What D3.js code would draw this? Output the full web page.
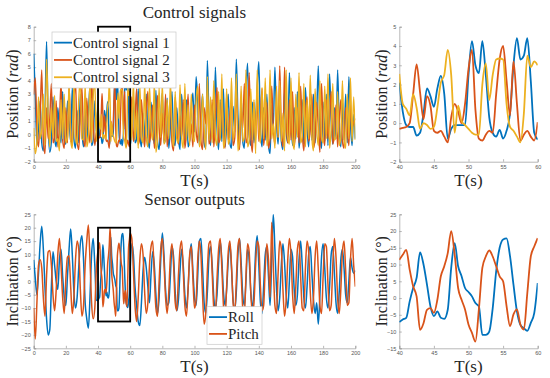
<!DOCTYPE html>
<html>
<head>
<meta charset="utf-8">
<script src="https://cdn.jsdelivr.net/npm/d3@7"></script>
<style>
body { margin: 0; background: #fff; }
svg { display: block; }
.tick text { font-family: "Liberation Sans", Arial, sans-serif; font-size: 5.5px; fill: #555; }
.domain, .tick line { stroke: #9a9a9a; stroke-width: 0.7; }
</style>
</head>
<body>
<div id="chart"></div>
<script>

// ---- whole run, one sample per second (0..200 s)
var control1 = [
  6.0, 3.0, -0.8, 0.5, 2.5, -0.6, -1.2, 1.5, 6.9, 0.8,
  -1.3, -0.5, 2.8, -0.2, -0.9, 2.0, 0.3, -0.6, 3.2, -0.4,
  -0.7, 2.5, 1.0, -0.5, 3.5, -0.3, -1.0, 1.8, -0.6, 3.0,
  0.2, -0.9, 2.2, -0.5, 1.5, 3.6, -0.8, -0.4, 2.5, 0.2,
  2.1, -0.1, -0.2, -0.5, 1.8, 0.85, 2.45, -0.8, -0.1, -0.1,
  2.5, 3.0, 4.25, 0.3, -0.7, -0.8, 0.5, 4.4, 3.5, 2.2,
  -0.85, 0.5, 2.8, -0.6, -0.3, 3.4, 0.1, -0.9, 1.6, -0.5,
  3.0, -0.2, -1.0, 2.4, 0.4, -0.7, 3.3, -0.4, -1.1, 1.2,
  3.1, -0.6, -0.3, 2.7, -1.0, 0.6, 3.2, -0.5, -0.8, 2.0,
  -0.2, -1.1, 3.0, 0.3, -0.7, 2.6, -0.9, -0.4, 1.8, 3.1,
  0.2, 4.3, 2.5, -0.8, 1.0, 3.0, -0.6, -1.0, 5.5, 1.2,
  -0.8, 2.2, -0.4, 5.0, 0.5, -1.1, 2.6, -0.5, 3.4, -0.9,
  0.8, 3.0, -0.6, -1.0, 2.1, 0.2, 5.6, 1.5, -0.9, 2.8,
  -0.5, -1.0, 3.2, 5.3, 0.0, -0.8, 2.4, -0.6, 1.0, 3.5,
  5.4, 0.4, -0.9, 2.0, -0.4, 3.0, -0.8, -1.4, 2.2, 0.6,
  5.0, 1.0, -0.7, 2.6, -0.5, -1.1, 3.3, 0.2, -0.6, 4.6,
  1.2, -0.8, 2.0, -0.3, 3.2, -1.0, 0.4, 2.6, -0.7, 3.5,
  0.5, -0.9, 2.2, -0.4, 3.0, -0.6, 1.5, 5.1, 0.3, -1.0,
  2.4, -0.5, 3.0, -0.8, 4.5, 1.0, -0.7, 2.0, -0.3, 4.8,
  0.6, -0.9, 2.5, -0.4, 3.0, -0.6, 4.3, 0.8, -0.8, 1.5,
  -0.3
];
var control2 = [
  3.0, 4.2, 0.5, -0.9, 1.5, 4.8, -0.5, -1.4, 2.0, -0.3,
  1.2, 3.8, -0.6, -0.2, 2.5, -0.9, 0.8, 3.9, -0.4, -1.0,
  2.0, -0.6, 3.6, 0.2, -0.8, 2.3, 4.0, -0.5, -1.1, 1.5,
  3.5, -0.3, -0.9, 2.7, 0.4, -0.6, 4.1, 1.0, -0.8, 0.2,
  -0.3, -0.2, 1.5, 1.6, 1.4, -0.4, -0.4, -1.0, 1.0, 0.0,
  2.8, 0.5, -0.9, -0.4, 1.5, 4.0, 0.4, 1.0, -0.6, -0.7,
  0.05, 2.8, -0.5, 1.0, 3.4, -0.7, -0.2, 2.6, 0.3, -0.9,
  1.8, 3.2, -0.6, 0.4, 2.2, -1.0, -0.3, 2.9, 0.6, -0.8,
  1.6, -0.4, 3.0, -0.9, 0.5, 2.4, -0.6, -1.2, 2.8, 0.3,
  -0.7, 1.4, -0.3, 2.6, -1.0, 0.2, 3.0, -0.5, 0.8, -0.9,
  2.2, 0.3, -0.6, 3.8, -0.4, -1.1, 2.0, 0.8, 3.2, -0.7,
  -0.3, 2.6, -0.9, 1.2, 3.5, -0.6, -0.2, 2.8, 0.0, -1.0,
  3.0, -0.4, 1.4, 2.6, -0.8, -0.3, 3.3, 0.2, -1.1, 2.0,
  0.5, 3.8, -0.6, -0.2, 4.6, 0.1, -1.3, 2.4, -0.4, 3.0,
  -0.5, 1.2, 3.4, -0.8, 0.6, 2.4, -1.0, -0.3, 3.6, 0.5,
  -0.7, 2.2, -0.2, 5.1, 0.3, -0.9, 5.0, 1.0, -0.6, 2.6,
  -0.4, 3.2, -0.9, 0.5, 2.0, -0.6, 3.6, 0.2, -1.2, 1.6,
  2.8, -0.5, 0.4, 3.0, -1.0, -0.2, 2.4, 0.6, -1.3, 3.8,
  0.3, -0.8, 2.6, -0.3, 1.2, 3.2, -0.7, 0.0, 2.2, -0.9,
  1.0, 2.6, -0.5, -1.0, 2.0, 0.4, -0.8, 2.2, 0.5, 0.9,
  1.2
];
var control3 = [
  0.5, -1.4, -0.5, 2.8, -0.3, 0.4, 3.0, -0.8, 5.6, 1.5,
  -0.9, 2.0, -0.2, 2.9, -0.5, -0.3, -1.2, 2.6, -0.3, 3.0,
  -0.6, -0.2, 3.8, -0.4, -1.0, 3.9, -0.2, -0.7, 2.6, 4.0,
  -0.3, -0.4, 3.8, -0.9, -0.2, 4.0, -0.6, 2.8, 3.9, -0.5,
  2.55, 0.75, 1.5, -0.3, -0.1, -0.2, 2.1, 3.8, -0.6, 0.1,
  -0.3, -0.6, 2.0, 1.2, 3.3, 3.3, -0.2, -0.7, 0.5, 2.9,
  3.0, -0.4, 3.9, -0.4, 1.8, -1.0, 3.7, -0.2, -0.6, 3.8,
  -0.2, -0.9, 3.6, 0.5, -0.4, 3.9, -1.3, -0.3, 3.5, -0.2,
  3.8, -0.7, -0.3, 2.6, -0.3, 3.9, 0.4, -0.9, 3.2, -0.3,
  -0.6, 3.7, -0.2, -1.0, 3.8, -0.4, 2.2, -0.8, 3.0, -0.2,
  -0.5, 2.4, 3.6, -0.9, -0.2, 3.0, 0.5, -1.1, 4.3, -0.4,
  2.8, -0.6, 4.0, -0.2, -0.8, 3.2, -0.4, 4.5, -1.0, -0.3,
  3.4, -0.7, -0.2, 4.2, -0.4, 0.6, 4.5, -1.2, -0.3, 3.6,
  -0.5, -0.2, 4.8, -0.9, -0.4, 3.4, -0.4, 2.6, -1.4, 4.8,
  0.4, -0.6, 3.5, -0.3, 4.2, -0.8, -0.2, 4.8, -0.3, 0.8,
  -1.0, 3.6, -0.2, 4.0, -0.5, 1.6, -1.2, 4.8, -0.2, -0.7,
  4.2, -0.3, -1.1, 3.0, -0.2, 4.6, -0.6, -0.1, 3.8, -0.9,
  2.6, -0.3, 4.4, -0.2, -1.2, 3.4, 0.4, -0.8, 4.0, -0.2,
  -0.6, 3.6, -0.3, 4.5, -1.0, 0.5, 3.8, -0.4, -0.2, 3.2,
  -0.8, -0.2, 4.0, -0.3, -1.0, 3.0, -0.3, 4.2, -0.5, 2.8,
  -0.4
];
var roll = [
  8.0, 1.0, -5.0, 3.0, 14.0, 20.5, 12.0, -2.0, -14.0, -20.0,
  -18.0, -2.0, 11.0, 6.0, 0.0, -3.0, 8.0, 12.0, 2.0, -6.0,
  -9.0, 2.0, 12.0, 19.5, 10.0, -4.0, -10.0, -6.0, 5.0, 14.0,
  17.0, 8.0, -8.0, -14.0, -17.5, -6.0, 10.0, 16.0, 6.0, -7.0,
  -7.2, -5.9, 3.0, 13.6, 4.0, -5.4, -5.9, -3.5, 16.4, 6.5,
  1.8, -1.5, -11.0, -10.0, 8.0, 17.5, 12.5, -4.0, -9.0, -7.4,
  4.5, 14.0, 10.0, -2.0, -9.0, -15.0, -16.5, -8.0, 4.0, 9.0,
  5.0, -2.0, -8.0, 3.0, 11.0, 6.0, -5.0, -12.0, -6.0, 8.0,
  18.0, 10.0, -3.0, -9.0, -8.0, 2.0, 13.0, 9.0, -4.0, -11.0,
  -7.0, 4.0, 12.0, 6.0, -5.0, -10.0, -3.0, 9.0, 14.0, 4.0,
  -6.0, -9.0, 2.0, 15.0, 16.0, 5.0, -8.0, -12.0, -4.0, 9.0,
  13.0, 6.0, -6.0, -10.0, -5.0, 7.0, 15.0, 8.0, -4.0, -9.0,
  -3.0, 8.0, 14.0, 5.0, -7.0, -11.0, -4.0, 10.0, 16.0, 7.0,
  -5.0, -9.0, 0.0, 12.0, 8.0, -4.0, -10.0, -3.0, 11.0, 17.0,
  6.0, -8.0, -12.0, -2.0, 10.0, 13.0, 2.0, -9.0, 8.0, 25.0,
  12.0, -3.0, -11.0, -6.0, 6.0, 14.0, 7.0, -5.0, -10.0, 0.0,
  12.0, 9.0, -3.0, -9.0, -5.0, 8.0, 15.0, 6.0, -6.0, -10.0,
  -2.0, 10.0, 13.0, 3.0, -7.0, -12.0, -8.0, -16.0, -5.0, 9.0,
  14.0, 5.0, -6.0, -10.0, -2.0, 10.0, 13.0, 3.0, -8.0, -12.0,
  -4.0, 8.0, 12.0, 5.0, -5.0, -8.0, 0.0, 9.0, 5.0, 3.0,
  4.0
];
var pitch = [
  -10.0, -21.5, -8.0, 6.0, 8.0, 5.0, -6.0, -13.0, 2.0, 11.0,
  11.5, 6.0, -5.0, -11.0, -3.0, 10.0, 16.0, 6.0, -6.0, -12.0,
  1.0, 9.0, 9.5, -2.0, -12.0, -6.0, 8.0, 15.0, 12.0, -3.0,
  -13.0, -9.0, 6.0, 15.0, 21.0, 8.0, -8.0, -14.0, -10.0, 5.0,
  11.4, 14.4, 3.5, -9.5, -3.5, -4.4, 6.5, 13.4, 13.0, -0.5,
  -7.9, -13.0, 9.0, 14.2, 9.5, 5.0, -8.4, -3.4, -9.4, 12.4,
  17.9, 16.0, 4.0, -9.0, -15.0, -6.0, 8.0, 14.0, 10.0, -4.0,
  -12.0, -8.0, 6.0, 13.0, 15.0, 2.0, -10.0, -13.0, 0.0, 12.0,
  16.0, 7.0, -6.0, -12.0, -4.0, 9.0, 14.0, 6.0, -8.0, -11.0,
  2.0, 12.0, 15.0, 4.0, -9.0, -13.0, -3.0, 10.0, 13.0, 1.0,
  -10.0, -7.0, 8.0, 15.0, 10.0, -5.0, -16.0, -12.0, 4.0, 14.0,
  15.0, 3.0, -10.0, -12.0, 1.0, 12.0, 16.0, 5.0, -9.0, -14.0,
  -2.0, 11.0, 15.0, 6.0, -8.0, -12.0, 0.0, 13.0, 16.0, 3.0,
  -10.0, -13.0, 2.0, 14.0, 11.0, -4.0, -12.0, -8.0, 6.0, 15.0,
  13.0, -2.0, -11.0, -9.0, 5.0, 14.0, 8.0, -6.0, 22.0, 6.0,
  -9.0, -12.0, 3.0, 15.0, 12.0, -3.0, -13.0, -7.0, 8.0, 16.0,
  10.0, -5.0, -12.0, -2.0, 12.0, 15.0, 2.0, -10.0, -11.0, 5.0,
  15.0, 11.0, -4.0, -12.0, -6.0, 9.0, 15.0, 4.0, -9.0, -12.0,
  2.0, 14.0, 13.0, -1.0, -11.0, -9.0, 6.0, 16.0, 9.0, -6.0,
  -12.0, -3.0, 11.0, 15.0, 4.0, -9.0, -8.0, 8.0, 16.0, 6.0,
  -2.0
];

// ---- zoomed window 40..60 s, one sample every 0.5 s
var zoom1 = [2.1, 0.6, -0.1, -0.2, -0.2, -0.65, -0.5, 0.5, 1.8, 1.4, 0.85, 1.8, 2.45, 1.5, -0.8, -0.3, -0.1, -0.1, -0.1, -0.1,
  2.5, 4.25, 3.0, 2.6, 4.25, 2.5, 0.3, -0.5, -0.7, -0.35, -0.8, -0.4, 0.5, 3.0, 4.4, 3.3, 3.5, 4.4, 2.2, -0.5, -0.85];
var zoom2 = [-0.3, -0.25, -0.2, 0.0, 1.5, 3.05, 1.6, 0.2, 1.4, 0.9, -0.4, -0.5, -0.4, -0.7, -1.0, 0.3, 1.0, 0.6, 0.0, 1.0,
  2.8, 3.8, 0.7, -0.8, -0.9, -0.6, -0.4, -0.5, 1.5, 3.3, 4.0, 2.2, 0.4, 3.2, 1.0, -0.9, -0.6, -0.4, -0.7, -0.9, 0.05];
var zoom3 = [2.55, 1.0, 0.75, 0.4, 1.5, 0.8, -0.3, 0.0, -0.1, -0.3, -0.2, 0.8, 2.1, 2.5, 3.8, 2.5, -0.5, 0.9, 0.1, -0.1,
  -0.3, -0.5, -0.6, -0.6, 2.0, 3.1, 1.2, 2.5, 3.3, 3.35, 3.3, 1.0, -0.2, -0.4, -0.7, -1.0, 0.5, 3.5, 2.9, 3.2, 3.0];
var zoomRoll = [-7.2, -6.4, -5.9, -1.0, 3.0, 6.0, 13.6, 10.0, 4.0, -2.5, -5.4, -4.0, -5.9, -6.2, -3.5, 9.0, 16.4, 9.5, 6.5, 3.0,
  1.8, 0.5, -1.5, -2.5, -11.0, -11.0, -10.0, -3.0, 8.0, 15.0, 17.5, 17.8, 12.5, 4.0, -4.0, -8.0, -9.0, -9.8, -7.4, -4.5, 4.5];
var zoomPitch = [11.4, 12.9, 14.4, 8.5, 3.5, 0.5, -9.5, -7.5, -3.5, -3.0, -4.4, -0.5, 6.5, 9.5, 13.4, 20.0, 13.0, 3.0, -0.5, -3.4,
  -7.9, -10.4, -13.0, -3.4, 9.0, 12.4, 14.2, 12.4, 9.5, 6.5, 5.0, -2.4, -8.4, -4.9, -3.4, -7.9, -9.4, 1.5, 12.4, 15.4, 17.9];

var fullTime = d3.range(0, 201);
var zoomTime = d3.range(0, 41).map(function(i) { return 40 + i * 0.5; });

var controlNames = ["Control signal 1", "Control signal 2", "Control signal 3"];
var sensorNames = ["Roll", "Pitch"];
var colors = ["#0072BD", "#D95319", "#EDB120"];

var xTicksFull = [0, 20, 40, 60, 80, 100, 120, 140, 160, 180, 200];
var xTicksZoom = [40, 45, 50, 55, 60];
var yTicksControl = [-2, -1, 0, 1, 2, 3, 4, 5, 6, 7, 8];
var yTicksControlZoom = [-2, -1, 0, 1, 2, 3, 4, 5];
var yTicksSensor = [-25, -20, -15, -10, -5, 0, 5, 10, 15, 20, 25];
var yTicksSensorZoom = [-15, -10, -5, 0, 5, 10, 15, 20, 25];

var serif = '"Liberation Serif", "Times New Roman", Times, serif';

// full-run series use the finer window samples between 40 and 60 s
function toPoints(times, vals) {
  return times.map(function(t, i) { return { t: t, v: vals[i] }; });
}
function merged(full, fine) {
  var pts = toPoints(fullTime, full).filter(function(d) { return d.t < 40 || d.t > 60; });
  return pts.concat(toPoints(zoomTime, fine)).sort(function(a, b) { return a.t - b.t; });
}

var svg = d3.select("#chart").append("svg")
  .attr("width", 550)
  .attr("height", 378);

var clipId = 0;

function label(sel, size) {
  return sel.append("text")
    .attr("font-family", serif)
    .attr("font-size", size)
    .attr("fill", "#262626");
}

function panel(p) {
  var x = d3.scaleLinear().domain(p.xDomain).range([p.left, p.right]);
  var y = d3.scaleLinear().domain(p.yDomain).range([p.bottom, p.top]);
  var g = svg.append("g");

  clipId++;
  g.append("clipPath").attr("id", "clip" + clipId)
    .append("rect")
    .attr("x", p.left).attr("y", p.top)
    .attr("width", p.right - p.left).attr("height", p.bottom - p.top);

  g.append("g")
    .attr("transform", "translate(0," + p.bottom + ")")
    .call(d3.axisBottom(x).tickValues(p.xTicks).tickSize(-2.5).tickPadding(3).tickFormat(d3.format("d")));
  g.append("g")
    .attr("transform", "translate(" + p.left + ",0)")
    .call(d3.axisLeft(y).tickValues(p.yTicks).tickSize(-2.5).tickPadding(3).tickFormat(d3.format("d")));

  var line = d3.line()
    .x(function(d) { return x(d.t); })
    .y(function(d) { return y(d.v); })
    .curve(d3.curveMonotoneX);

  var lines = g.append("g").attr("clip-path", "url(#clip" + clipId + ")");
  p.series.forEach(function(s, i) {
    lines.append("path")
      .datum(s)
      .attr("fill", "none")
      .attr("stroke", colors[i])
      .attr("stroke-width", p.lw)
      .attr("stroke-linejoin", "round")
      .attr("d", line);
  });

  if (p.box) {
    g.append("rect")
      .attr("x", x(p.box[0])).attr("y", y(p.box[3]))
      .attr("width", x(p.box[1]) - x(p.box[0]))
      .attr("height", y(p.box[2]) - y(p.box[3]))
      .attr("fill", "none").attr("stroke", "#000").attr("stroke-width", 1.8);
  }

  var cx = (p.left + p.right) / 2;
  if (p.title) {
    label(g, 17).attr("x", cx).attr("y", p.top - 9)
      .attr("text-anchor", "middle")
      .text(p.title);
  }
  label(g, 17).attr("x", cx).attr("y", p.bottom + 24)
    .attr("text-anchor", "middle")
    .text("T(s)");

  var yl = label(g, 16)
    .attr("transform", "translate(" + p.ylabelX + "," + (p.top + p.bottom) / 2 + ") rotate(-90)")
    .attr("text-anchor", "middle");
  yl.append("tspan").text(p.ylabel[0]);
  if (p.ylabel[1]) yl.append("tspan").attr("font-style", "italic").text(p.ylabel[1]);
  yl.append("tspan").text(p.ylabel[2]);

  if (p.legend) {
    var L = p.legend;
    var lg = g.append("g");
    lg.append("rect")
      .attr("x", L.x).attr("y", L.y).attr("width", L.w).attr("height", L.h)
      .attr("fill", "#fff").attr("stroke", "#c8c8c8").attr("stroke-width", 0.7);
    L.names.forEach(function(name, i) {
      var ry = L.y + L.pad + (i + 0.5) * L.row;
      lg.append("line")
        .attr("x1", L.x + 2).attr("x2", L.x + 20)
        .attr("y1", ry).attr("y2", ry)
        .attr("stroke", colors[i]).attr("stroke-width", 1.8);
      label(lg, L.size)
        .attr("x", L.x + 21).attr("y", ry).attr("dy", "0.33em")
        .text(name);
    });
  }
}

// top-left: control signals, whole run
panel({
  left: 33.7, right: 355.3, top: 26.7, bottom: 161.7,
  xDomain: [0, 200], yDomain: [-2, 8],
  xTicks: xTicksFull, yTicks: yTicksControl,
  series: [merged(control1, zoom1), merged(control2, zoom2), merged(control3, zoom3)],
  lw: 1.4,
  box: [40, 60, -2, 8],
  title: "Control signals",
  ylabel: ["Position (", "rad", ")"], ylabelX: 18,
  legend: { x: 52, y: 32, w: 124, h: 56, pad: 2, row: 17.3, size: 15, names: controlNames }
});

// top-right: control signals, 40..60 s
panel({
  left: 399.3, right: 537.7, top: 26.7, bottom: 161.7,
  xDomain: [40, 60], yDomain: [-2, 5],
  xTicks: xTicksZoom, yTicks: yTicksControlZoom,
  series: [toPoints(zoomTime, zoom1), toPoints(zoomTime, zoom2), toPoints(zoomTime, zoom3)],
  lw: 1.8,
  ylabel: ["Position (", "rad", ")"], ylabelX: 387
});

// bottom-left: sensor outputs, whole run
panel({
  left: 33.7, right: 355.3, top: 214.3, bottom: 348.3,
  xDomain: [0, 200], yDomain: [-25, 25],
  xTicks: xTicksFull, yTicks: yTicksSensor,
  series: [merged(roll, zoomRoll), merged(pitch, zoomPitch)],
  lw: 1.5,
  box: [40, 60, -15, 20],
  title: "Sensor outputs",
  ylabel: ["Inclination (°)", "", ""], ylabelX: 18,
  legend: { x: 207, y: 306.7, w: 55, h: 37.6, pad: 2, row: 16.8, size: 15, names: sensorNames }
});

// bottom-right: sensor outputs, 40..60 s
panel({
  left: 399.3, right: 537.7, top: 214.3, bottom: 348.3,
  xDomain: [40, 60], yDomain: [-15, 25],
  xTicks: xTicksZoom, yTicks: yTicksSensorZoom,
  series: [toPoints(zoomTime, zoomRoll), toPoints(zoomTime, zoomPitch)],
  lw: 1.8,
  ylabel: ["Inclination (°)", "", ""], ylabelX: 387
});

</script>
</body>
</html>
